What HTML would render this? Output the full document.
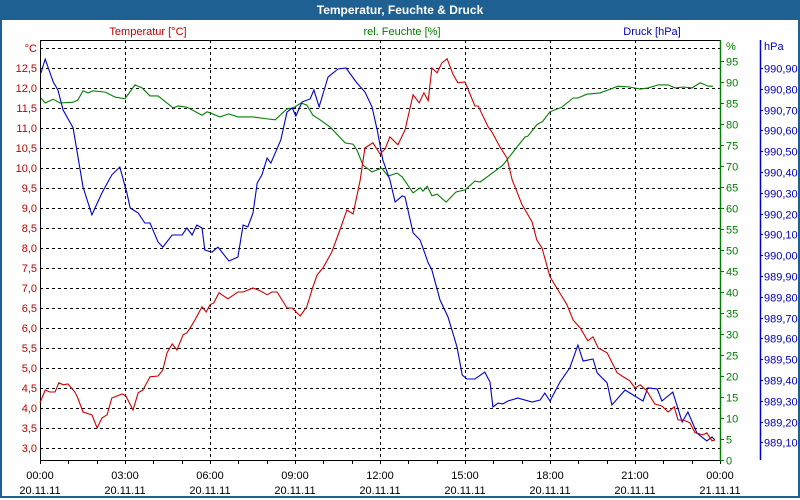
<!DOCTYPE html>
<html><head><meta charset="utf-8"><style>
html,body{margin:0;padding:0;background:#fff;}
#wrap{position:relative;width:796px;height:496px;border:2px solid #1e6091;border-top:none;overflow:hidden;}
#title{position:absolute;left:0;top:0;width:796px;height:20px;background:#1e6091;color:#fff;font:bold 12px "Liberation Sans",sans-serif;text-align:center;line-height:20px;}
svg{position:absolute;left:-2px;top:0;}
text{font-family:"Liberation Sans",sans-serif;font-size:11px;}
</style></head><body>
<div id="wrap">
<div id="title">Temperatur, Feuchte &amp; Druck</div>
<svg id="chart" width="800" height="500"></svg>
</div>
<script>
const xTickLabels=["00:00","03:00","06:00","09:00","12:00","15:00","18:00","21:00","00:00"];
const xDateLabels=["20.11.11","20.11.11","20.11.11","20.11.11","20.11.11","20.11.11","20.11.11","20.11.11","21.11.11"];
const tempTicks=["3,0","3,5","4,0","4,5","5,0","5,5","6,0","6,5","7,0","7,5","8,0","8,5","9,0","9,5","10,0","10,5","11,0","11,5","12,0","12,5"];
const humTicks=[0,5,10,15,20,25,30,35,40,45,50,55,60,65,70,75,80,85,90,95];
const presTicks=["989,10","989,20","989,30","989,40","989,50","989,60","989,70","989,80","989,90","990,00","990,10","990,20","990,30","990,40","990,50","990,60","990,70","990,80","990,90"];
// minutes since 00:00
const tempTimes=[0,11,21,32,40,49,59,74,80,91,110,121,131,142,152,174,182,197,208,218,233,250,260,269,280,290,303,311,322,328,343,352,360,368,379,398,419,430,451,466,481,491,502,523,534,551,565,578,587,599,618,635,650,663,678,688,705,720,731,741,758,773,790,803,813,822,830,841,851,862,875,885,900,921,928,949,957,974,989,1000,1021,1042,1052,1063,1080,1097,1116,1129,1144,1160,1171,1182,1201,1222,1239,1249,1260,1271,1285,1302,1317,1330,1343,1351,1362,1376,1387,1404,1412,1423,1429];
const tempValues=[4.13,4.45,4.40,4.40,4.63,4.58,4.60,4.40,4.25,3.90,3.83,3.50,3.75,3.83,4.25,4.35,4.30,3.95,4.38,4.45,4.78,4.80,4.95,5.38,5.60,5.45,5.83,5.88,6.08,6.20,6.53,6.40,6.58,6.63,6.88,6.73,6.90,6.90,7.00,6.93,6.83,6.90,6.90,6.50,6.50,6.30,6.53,7.03,7.33,7.50,7.90,8.45,8.95,8.85,9.70,10.50,10.63,10.35,10.48,10.78,10.58,10.95,11.83,11.63,11.88,11.68,12.50,12.38,12.63,12.73,12.33,12.13,12.15,11.55,11.55,11.03,10.90,10.53,10.25,9.70,9.08,8.65,8.20,8.00,7.28,6.95,6.58,6.20,6.00,5.68,5.78,5.50,5.38,4.88,4.75,4.68,4.50,4.58,4.43,4.10,4.05,3.90,4.03,3.70,3.70,3.63,3.38,3.33,3.38,3.18,3.20];
const humTimes=[2,11,28,42,70,80,91,102,112,138,159,180,201,216,233,250,282,292,311,343,354,381,400,419,451,483,498,523,536,553,565,578,593,614,646,663,671,684,703,724,737,756,767,790,805,811,820,830,841,860,881,900,921,932,953,980,1010,1027,1033,1052,1065,1080,1105,1129,1139,1158,1186,1203,1224,1249,1271,1288,1309,1330,1345,1362,1381,1398,1415,1425];
const humValues=[86.2,85.0,85.9,85.0,85.2,85.7,87.9,87.4,87.9,87.6,86.4,86.0,89.3,88.6,86.7,86.7,83.8,84.3,84.0,82.1,82.9,81.7,82.4,81.7,81.7,81.2,81.0,83.6,83.8,85.0,84.5,82.1,81.0,79.3,75.5,75.2,73.8,70.2,68.6,69.5,67.6,68.3,67.4,63.6,64.8,64.0,65.2,62.9,63.3,61.4,63.8,64.3,66.4,66.2,67.9,70.2,74.5,76.9,77.1,79.8,80.7,82.9,84.0,86.2,86.2,87.1,87.4,88.1,89.0,88.8,88.3,88.6,89.3,89.3,88.6,88.8,88.6,89.8,89.0,89.0];
const presTimes=[2,11,28,38,49,70,91,110,131,152,169,184,191,208,222,233,250,260,280,301,311,322,332,343,349,364,377,400,419,430,440,451,460,470,481,489,510,523,534,542,555,572,580,591,610,631,648,671,688,703,714,726,741,752,767,773,790,805,822,830,847,864,883,894,904,921,942,953,959,970,980,991,1012,1042,1059,1069,1080,1101,1122,1139,1150,1171,1180,1201,1211,1239,1256,1277,1287,1307,1317,1340,1360,1372,1391,1412,1423,1429];
const presValues=[990.876,990.943,990.833,990.794,990.698,990.612,990.328,990.194,990.299,990.386,990.424,990.299,990.227,990.203,990.155,990.155,990.063,990.039,990.097,990.097,990.131,990.097,990.145,990.131,990.025,990.015,990.039,989.972,989.991,990.145,990.136,990.203,990.347,990.386,990.467,990.443,990.554,990.688,990.708,990.669,990.737,990.751,990.794,990.713,990.857,990.895,990.900,990.828,990.785,990.713,990.602,990.458,990.362,990.256,990.285,990.280,990.107,990.073,989.963,989.929,989.785,989.703,989.559,989.424,989.405,989.405,989.438,989.390,989.270,989.289,989.285,989.299,989.313,989.294,989.304,989.337,989.299,989.390,989.458,989.568,989.491,989.501,989.434,989.386,989.280,989.352,989.328,989.299,989.362,989.357,989.299,989.342,989.198,989.246,989.145,989.107,989.126,989.112];

const NS="http://www.w3.org/2000/svg";
const svg=document.getElementById('chart');
const X0=40,X1=720,Y0=40,Y1=460;
const xScale=m=>X0+m*(X1-X0)/1440;
const yTemp=t=>448-(t-3)*40;
const yHum=h=>460-h*4.2;
const yPres=p=>68+(990.9-p)*208;
function el(tag,attrs,parent){const e=document.createElementNS(NS,tag);for(const k in attrs)e.setAttribute(k,attrs[k]);(parent||svg).appendChild(e);return e;}
function txt(x,y,s,fill,anchor,name){const t=el('text',{x:x,y:y,fill:fill,'text-anchor':anchor});t.textContent=s;


return t;}

// grid
const grid=el('g',{stroke:'#000','stroke-width':1,'stroke-dasharray':'3,3'});


for(let k=0;k<=20;k++){const y=48+20*k+0.5;const l=el('line',{x1:X0,x2:X1,y1:y,y2:y},grid);

}
for(let k=1;k<8;k++){const x=Math.round(xScale(k*180))+0.5;const l=el('line',{x1:x,x2:x,y1:Y0,y2:Y1},grid);

}

// axes
const ax=el('path',{d:`M${X0+0.5},${Y1} V${Y0+0.5} H${X1}`,stroke:'#000',fill:'none'});


const xa=el('line',{x1:X0,x2:X1,y1:Y1+0.5,y2:Y1+0.5,stroke:'#000'});


for(let h=0;h<=24;h++){const x=Math.round(xScale(h*60))+0.5;const t=el('line',{x1:x,x2:x,y1:Y1,y2:Y1+4,stroke:'#000'});

}
xTickLabels.forEach((s,i)=>{const x=xScale(i*180);txt(x,479,s,'#000','middle','x-tick-label');txt(x,494,xDateLabels[i],'#000','middle','x-date-label');});

// left temp axis
tempTicks.forEach((s,i)=>{txt(37,yTemp(3+i*0.5)+4,s,'#c00000','end','temp-tick-label');});
txt(37,52,'°C','#c00000','end','temp-axis-unit');
// humidity axis
const ha=el('line',{x1:720.5,x2:720.5,y1:Y0,y2:Y1+1,stroke:'#008000','stroke-width':1.5});


humTicks.forEach(v=>{const y=Math.round(yHum(v))+0.5;const t=el('line',{x1:720,x2:724,y1:y,y2:y,stroke:'#008000'});


txt(726,y+4,String(v),'#008000','start','humidity-tick-label');});
txt(726,50,'%','#008000','start','humidity-axis-unit');
// pressure axis
const pa=el('line',{x1:760.5,x2:760.5,y1:Y0,y2:Y1,stroke:'#0000c0','stroke-width':1.5});


presTicks.forEach((s,i)=>{const y=Math.round(yPres(989.1+i*0.1))+0.5;const t=el('line',{x1:760,x2:763,y1:y,y2:y,stroke:'#0000c0'});


txt(764,y+4,s,'#0000c0','start','pressure-tick-label');});
txt(764,50,'hPa','#0000c0','start','pressure-axis-unit');

// series titles
txt(148,35,'Temperatur [°C]','#c00000','middle','temperature-legend');
txt(402,35,'rel. Feuchte [%]','#008000','middle','humidity-legend');
txt(652,35,'Druck [hPa]','#0000c0','middle','pressure-legend');

function series(times,vals,yf,color,name){const d=times.map((m,i)=>(i?'L':'M')+xScale(m).toFixed(1)+','+yf(vals[i]).toFixed(1)).join(' ');
const p=el('path',{d:d,fill:'none',stroke:color,'stroke-width':1.1});

}
series(humTimes,humValues,yHum,'#008000','humidity-line');
series(presTimes,presValues,yPres,'#0000d0','pressure-line');
series(tempTimes,tempValues,yTemp,'#d00000','temperature-line');
</script>
</body></html>
